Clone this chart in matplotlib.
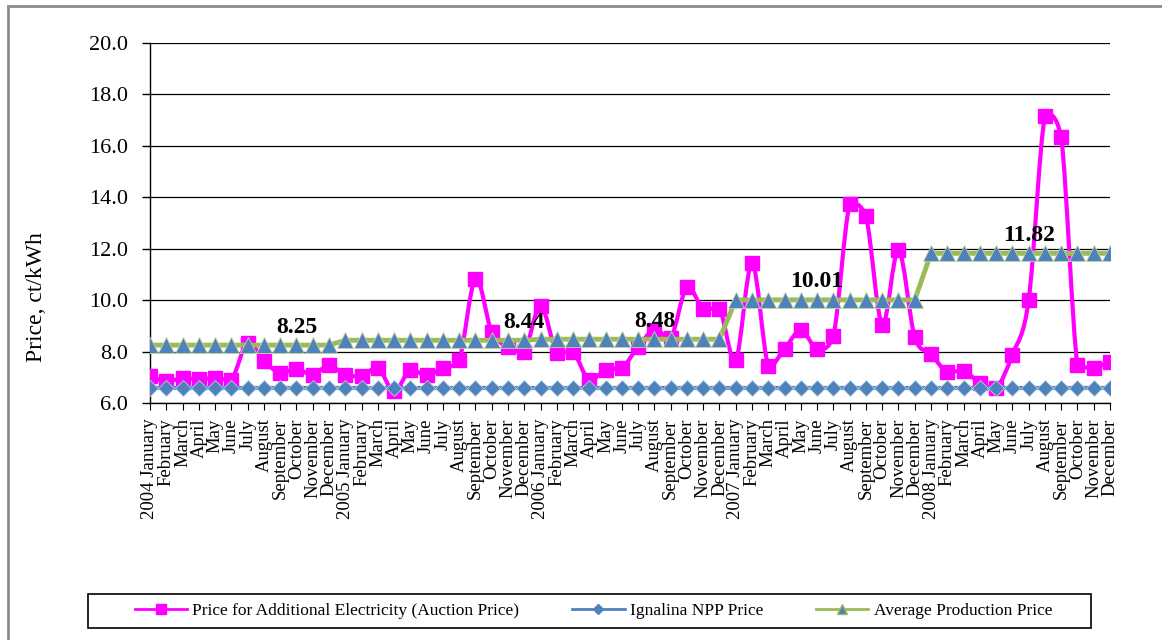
import matplotlib
matplotlib.use("Agg")
import matplotlib.pyplot as plt
from matplotlib.lines import Line2D
from matplotlib.patches import PathPatch, Rectangle
from matplotlib.path import Path

plt.rcParams['font.family'] = ['Liberation Serif', 'DejaVu Serif']

# monthly prices, ct/kWh, January 2004 .. December 2008
years = ["2004", "2005", "2006", "2007", "2008"]
months = ["January", "February", "March", "April", "May", "June", "July",
          "August", "September", "October", "November", "December"]

auction_price = [
    7.05, 6.84, 6.97, 6.93, 6.97, 6.90, 8.35, 7.63, 7.17, 7.33, 7.10, 7.46,
    7.10, 7.04, 7.37, 6.45, 7.30, 7.07, 7.37, 7.66, 10.83, 8.77, 8.19, 8.00,
    9.77, 7.96, 7.98, 6.88, 7.30, 7.36, 8.19, 8.85, 8.52, 10.51, 9.66, 9.66,
    7.68, 11.44, 7.44, 8.11, 8.83, 8.11, 8.60, 13.72, 13.26, 9.05, 11.95, 8.57,
    7.90, 7.20, 7.26, 6.78, 6.57, 7.88, 10.00, 17.16, 16.35, 7.47, 7.38, 7.60,
]
ignalina_price = [
    6.6, 6.6, 6.6, 6.6, 6.6, 6.6, 6.6, 6.6, 6.6, 6.6, 6.6, 6.6,
    6.6, 6.6, 6.6, 6.6, 6.6, 6.6, 6.6, 6.6, 6.6, 6.6, 6.6, 6.6,
    6.6, 6.6, 6.6, 6.6, 6.6, 6.6, 6.6, 6.6, 6.6, 6.6, 6.6, 6.6,
    6.6, 6.6, 6.6, 6.6, 6.6, 6.6, 6.6, 6.6, 6.6, 6.6, 6.6, 6.6,
    6.6, 6.6, 6.6, 6.6, 6.6, 6.6, 6.6, 6.6, 6.6, 6.6, 6.6, 6.6,
]
average_price = [
    8.25, 8.25, 8.25, 8.25, 8.25, 8.25, 8.25, 8.25, 8.25, 8.25, 8.25, 8.25,
    8.44, 8.44, 8.44, 8.44, 8.44, 8.44, 8.44, 8.44, 8.44, 8.44, 8.44, 8.44,
    8.48, 8.48, 8.48, 8.48, 8.48, 8.48, 8.48, 8.48, 8.48, 8.48, 8.48, 8.48,
    10.01, 10.01, 10.01, 10.01, 10.01, 10.01, 10.01, 10.01, 10.01, 10.01, 10.01, 10.01,
    11.82, 11.82, 11.82, 11.82, 11.82, 11.82, 11.82, 11.82, 11.82, 11.82, 11.82, 11.82,
]
# months carrying the yearly average label
label_months = [9, 23, 31, 41, 54]

PINK = "#FF00FF"
BLUE = "#4F81BD"
GREEN = "#9BBB59"


def smooth_path(xs, ys):
    # bezier through every point, control points kept near each segment
    n = len(xs)
    verts = [(xs[0], ys[0])]
    codes = [Path.MOVETO]
    for i in range(n - 1):
        i0 = max(i - 1, 0)
        i3 = min(i + 2, n - 1)
        lo, hi = min(ys[i], ys[i + 1]), max(ys[i], ys[i + 1])
        m = 0.15 * (hi - lo)
        y1 = ys[i] + (ys[i + 1] - ys[i0]) / 6
        y2 = ys[i + 1] - (ys[i3] - ys[i]) / 6
        y1 = min(max(y1, lo - m), hi + m)
        y2 = min(max(y2, lo - m), hi + m)
        c1 = (xs[i] + (xs[i + 1] - xs[i0]) / 6, y1)
        c2 = (xs[i + 1] - (xs[i3] - xs[i]) / 6, y2)
        verts += [c1, c2, (xs[i + 1], ys[i + 1])]
        codes += [Path.CURVE4] * 3
    return Path(verts, codes)


def main():
    labels = []
    for y in years:
        for j, m in enumerate(months):
            labels.append(y + " " + m if j == 0 else m)
    x = list(range(len(labels)))

    fig = plt.figure(figsize=(11.62, 6.4), dpi=100)
    ax = fig.add_axes([150 / 1162, 237 / 640, 960 / 1162, 360 / 640])

    # auction price: smoothed line with square markers
    ax.add_patch(PathPatch(smooth_path(x, auction_price), fill=False,
                           edgecolor=PINK, lw=3, zorder=3))
    ax.plot(x, auction_price, linestyle="none", marker="s", ms=10,
            color=PINK, zorder=3)
    ax.plot(x, ignalina_price, color=BLUE, lw=3, marker="D", ms=8,
            markeredgecolor="#B9CDE5", markeredgewidth=0.6, zorder=4)
    ax.plot(x, average_price, color=GREEN, lw=3.5, marker="^", ms=11,
            markerfacecolor=BLUE, markeredgecolor="#C3D69B",
            markeredgewidth=0.6, zorder=5)

    for i in label_months:
        ax.annotate(f"{average_price[i]:.2f}", (i, average_price[i]),
                    xytext=(0, 13), textcoords="offset points",
                    ha="center", va="center", fontsize=17,
                    fontweight="bold", zorder=6)

    ax.set_xlim(0, 59)
    ax.set_ylim(6, 20)
    ax.set_yticks([6, 8, 10, 12, 14, 16, 18, 20])
    ax.set_yticklabels([f"{v:.1f}" for v in ax.get_yticks()])
    ax.set_xticks(x)
    ax.set_xticklabels(labels, rotation=90, ha="center", va="top")
    ax.tick_params(axis="y", direction="out", length=6, width=1,
                   labelsize=16, pad=10)
    ax.tick_params(axis="x", direction="out", length=5, width=0.8,
                   labelsize=13.5, pad=6)
    ax.grid(axis="y", color="black", lw=0.9)
    ax.set_axisbelow(True)
    for s in ["top", "right"]:
        ax.spines[s].set_visible(False)
    for s in ["left", "bottom"]:
        ax.spines[s].set_color("black")
        ax.spines[s].set_linewidth(1)

    fig.text(37 / 1162, 1 - 297 / 640, "Price, ct/kWh", rotation=90,
             ha="center", va="center", fontsize=17)

    # legend
    handles = [
        Line2D([], [], color=PINK, lw=2, marker="s", ms=7),
        Line2D([], [], color=BLUE, lw=2, marker="D", ms=5),
        Line2D([], [], color=GREEN, lw=2, marker="^", ms=7,
               markerfacecolor=BLUE, markeredgecolor=GREEN),
    ]
    names = ["Price for Additional Electricity (Auction Price)",
             "Ignalina NPP Price", "Average Production Price"]
    fig.legend(handles, names, ncol=3, mode="expand", frameon=False,
               bbox_to_anchor=(135 / 1162, 12 / 640, 917 / 1162, 34 / 640),
               loc="center", borderpad=0, borderaxespad=0,
               handlelength=3, handletextpad=0.3, fontsize=12.5)
    fig.add_artist(Rectangle((88 / 1162, 12 / 640), 1003 / 1162, 34 / 640,
                             transform=fig.transFigure, fill=False,
                             edgecolor="black", lw=1.2))

    # outer chart border
    fig.add_artist(Rectangle((8 / 1162, -0.1), 1.2, 1.1 - 6 / 640,
                             transform=fig.transFigure, fill=False,
                             edgecolor="#8C8C8C", lw=2))

    fig.savefig("out.png", dpi=100)


if __name__ == "__main__":
    main()
